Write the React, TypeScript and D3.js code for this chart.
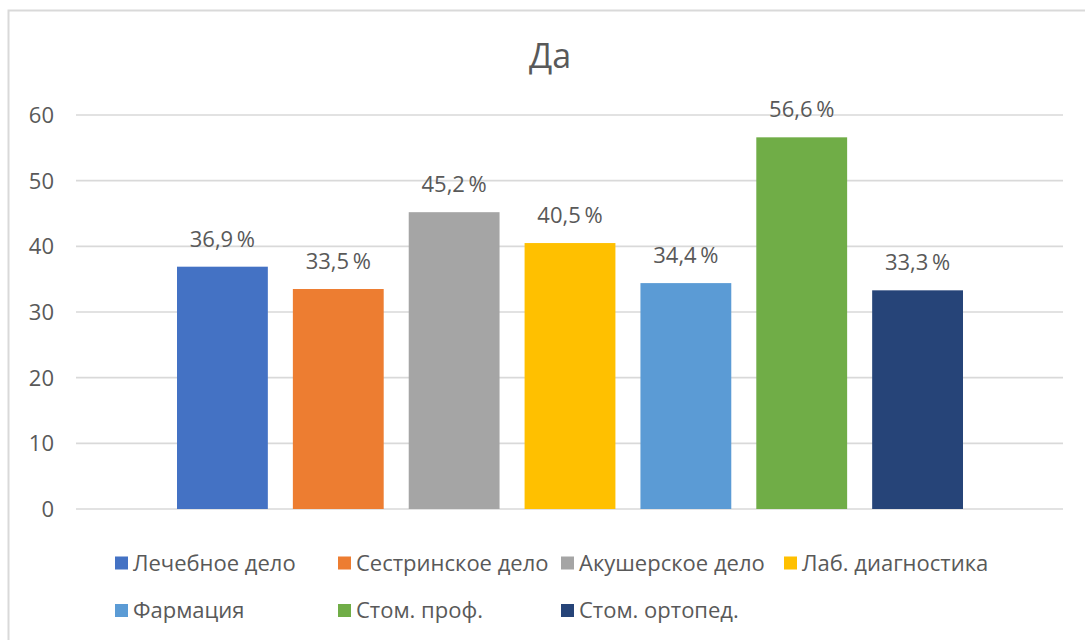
import React from "react";
import * as d3 from "d3";

const seriesNames = [
  "Лечебное дело",
  "Сестринское дело",
  "Акушерское дело",
  "Лаб. диагностика",
  "Фармация",
  "Стом. проф.",
  "Стом. ортопед.",
];
const seriesValues = [36.9, 33.5, 45.2, 40.5, 34.4, 56.6, 33.3];
const seriesColors = ["#4472C4", "#ED7D31", "#A5A5A5", "#FFC000", "#5B9BD5", "#70AD47", "#264478"];
const yTicks = [0, 10, 20, 30, 40, 50, 60];
const title = "Да";

const W = 1085;
const H = 640;
const FONT = "'Open Sans', 'Noto Sans', sans-serif";
const TXT = "#595959";

export default function App() {
  const plotLeft = 76;
  const plotRight = 1063;
  const y = d3.scaleLinear().domain([0, 60]).range([509, 115]);
  const x = d3
    .scaleBand<string>()
    .domain(seriesNames)
    .range([177, 963])
    .paddingInner(0.216)
    .paddingOuter(0);

  const fmt = (v: number) => v.toFixed(1).replace(".", ",") + "\u2009%";

  const legendCols = 4;
  const legendX0 = 115;
  const legendColW = 223;
  const legendRowY = [563, 610.5];

  return (
    <svg
      width={W}
      height={H}
      style={{ position: "absolute", left: 0, top: 0, background: "#fff" }}
      fontFamily={FONT}
    >
      <rect x={8.5} y={10.5} width={W + 10} height={H + 10} fill="#fff" stroke="#d9d9d9" strokeWidth={2} />
      <text x={550} y={68} textAnchor="middle" fontSize={34} fill={TXT}>
        {title}
      </text>
      {yTicks.map((t) => (
        <g key={t}>
          <line x1={plotLeft} x2={plotRight} y1={y(t)} y2={y(t)} stroke="#d9d9d9" strokeWidth={1.6} />
          <text x={54} y={y(t)} dy="0.36em" textAnchor="end" fontSize={22} fill={TXT}>
            {t}
          </text>
        </g>
      ))}
      {seriesNames.map((name, i) => (
        <g key={name}>
          <rect
            x={x(name)!}
            y={y(seriesValues[i])}
            width={x.bandwidth()}
            height={y(0) - y(seriesValues[i])}
            fill={seriesColors[i]}
          />
          <text
            x={x(name)! + x.bandwidth() / 2}
            y={y(seriesValues[i]) - 20}
            textAnchor="middle"
            fontSize={22}
            fill={TXT}
          >
            {fmt(seriesValues[i])}
          </text>
        </g>
      ))}
      {seriesNames.map((name, i) => {
        const col = i % legendCols;
        const row = Math.floor(i / legendCols);
        const lx = legendX0 + col * legendColW;
        const ly = legendRowY[row];
        return (
          <g key={"lg" + name}>
            <rect x={lx} y={ly - 6.5} width={13} height={13} fill={seriesColors[i]} />
            <text x={lx + 18} y={ly} dy="0.36em" fontSize={22} fill={TXT}>
              {name}
            </text>
          </g>
        );
      })}
    </svg>
  );
}
